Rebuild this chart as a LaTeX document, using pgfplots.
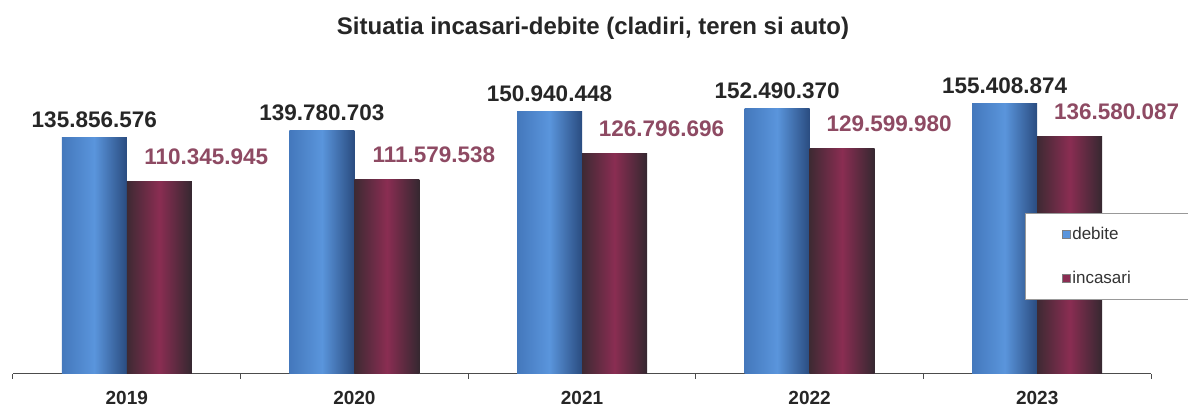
\documentclass[border=0pt]{standalone}
\usepackage{pgfplots}
\pgfplotsset{compat=1.18}
\usepackage{pgfplotstable}
\usepackage{fontspec}
\setmainfont{Liberation Sans}
\definecolor{blueL}{HTML}{4478BC}
\definecolor{blueM}{HTML}{5A95DC}
\definecolor{blueR}{HTML}{2A4C80}
\definecolor{redL}{HTML}{3E2A33}
\definecolor{redM}{HTML}{8A2D52}
\definecolor{redR}{HTML}{352830}
\definecolor{redtext}{HTML}{8E4A63}
\pgfplotstableread{
x y label
0 135856576 135.856.576
1 139780703 139.780.703
2 150940448 150.940.448
3 152490370 152.490.370
4 155408874 155.408.874
}\debite
\pgfplotstableread{
x y label
0 110345945 110.345.945
1 111579538 111.579.538
2 126796696 126.796.696
3 129599980 129.599.980
4 136580087 136.580.087
}\incasari
\begin{document}
\begin{tikzpicture}
\path[use as bounding box, fill=white] (0,0) rectangle (1188pt,406pt);
\node[font=\bfseries\fontsize{24}{28}\selectfont, color=black!85, anchor=base] at (593pt,371pt) {Situatia incasari-debite (cladiri, teren si auto)};
\begin{axis}[
  at={(13pt,32pt)}, anchor=south west,
  scale only axis, width=1138pt, height=300pt,
  ybar, bar width=65pt,
  xmin=-0.5, xmax=4.5, ymin=0, ymax=172400000,
  axis y line=none, axis x line*=bottom,
  x axis line style={draw=black!70, line width=1pt},
  xtick={0,...,4}, xticklabels={2019,2020,2021,2022,2023},
  major x tick style={draw=none},
  minor xtick={-0.5,0.5,1.5,2.5,3.5,4.5},
  minor tick length=5pt, tick align=outside,
  minor x tick style={draw=black!70, line width=1pt},
  xticklabel style={font=\bfseries\fontsize{19}{22}\selectfont, color=black!85, anchor=base, yshift=-26pt},
  clip=false,
  point meta=explicit symbolic,
  nodes near coords,
  legend style={at={(0.889,0.537)}, anchor=north west, draw=black!40, fill=white,
    font=\fontsize{17}{20}\selectfont, text=black!80, inner xsep=37pt, inner ysep=12pt, row sep=26pt,
    /tikz/every even column/.append style={text width=80pt}},
  legend cell align=left,
  legend image code/.code={\draw[#1, draw=black!50] (0pt,-4pt) rectangle (8pt,4pt);},
  debstyle/.style={draw=none, bar shift=-32.5pt, left color=blueL, right color=blueR, middle color=blueM,
    nodes near coords style={font=\bfseries\fontsize{22.5}{27}\selectfont, color=black!85, anchor=base, inner sep=0pt, yshift=10pt}},
  incstyle/.style={draw=none, bar shift=32.5pt, left color=redL, right color=redR, middle color=redM,
    nodes near coords style={font=\bfseries\fontsize{22.5}{27}\selectfont, color=redtext, anchor=base, inner sep=0pt, yshift=17pt, xshift=47pt}},
]
\pgfplotsinvokeforeach{0,...,4}{
  \addplot[debstyle, forget plot, restrict x to domain=#1:#1] table[x=x, y=y, meta=label] {\debite};
  \addplot[incstyle, forget plot, restrict x to domain=#1:#1] table[x=x, y=y, meta=label] {\incasari};
}
\addlegendimage{fill=blueM}
\addlegendentry{debite}
\addlegendimage{fill=redM}
\addlegendentry{incasari}
\end{axis}
\end{tikzpicture}
\end{document}
